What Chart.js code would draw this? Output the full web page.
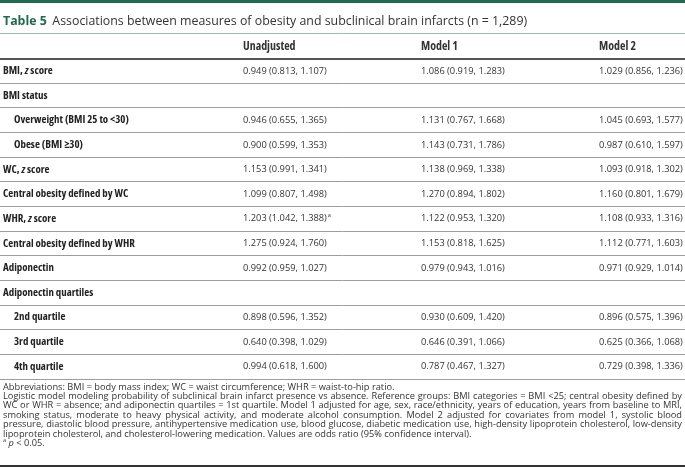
<!DOCTYPE html>
<html>
<head>
<meta charset="utf-8">
<script src="https://cdn.jsdelivr.net/npm/chart.js@4.4.1/dist/chart.umd.min.js"></script>
<style>
  html, body { margin: 0; padding: 0; background: #fff; }
  #wrap { width: 685px; height: 467px; position: relative; }
</style>
</head>
<body>
<div id="wrap"><canvas id="tbl"></canvas></div>
<script>
const tableNumber = 'Table 5';
const tableTitle = 'Associations between measures of obesity and subclinical brain infarcts (n = 1,289)';
const columns = ['Unadjusted', 'Model 1', 'Model 2'];
const rowLabels = [
  'BMI, z score',
  'BMI status',
  'Overweight (BMI 25 to <30)',
  'Obese (BMI \u226530)',
  'WC, z score',
  'Central obesity defined by WC',
  'WHR, z score',
  'Central obesity defined by WHR',
  'Adiponectin',
  'Adiponectin quartiles',
  '2nd quartile',
  '3rd quartile',
  '4th quartile'
];
// rows drawn indented under a group heading
const subRows = ['Overweight (BMI 25 to <30)', 'Obese (BMI \u226530)', '2nd quartile', '3rd quartile', '4th quartile'];
// odds ratio (95% CI); ^a marks the footnote
const unadjusted = ['0.949 (0.813, 1.107)', null, '0.946 (0.655, 1.365)', '0.900 (0.599, 1.353)', '1.153 (0.991, 1.341)', '1.099 (0.807, 1.498)', '1.203 (1.042, 1.388)^a', '1.275 (0.924, 1.760)', '0.992 (0.959, 1.027)', null, '0.898 (0.596, 1.352)', '0.640 (0.398, 1.029)', '0.994 (0.618, 1.600)'];
const model1 = ['1.086 (0.919, 1.283)', null, '1.131 (0.767, 1.668)', '1.143 (0.731, 1.786)', '1.138 (0.969, 1.338)', '1.270 (0.894, 1.802)', '1.122 (0.953, 1.320)', '1.153 (0.818, 1.625)', '0.979 (0.943, 1.016)', null, '0.930 (0.609, 1.420)', '0.646 (0.391, 1.066)', '0.787 (0.467, 1.327)'];
const model2 = ['1.029 (0.856, 1.236)', null, '1.045 (0.693, 1.577)', '0.987 (0.610, 1.597)', '1.093 (0.918, 1.302)', '1.160 (0.801, 1.679)', '1.108 (0.933, 1.316)', '1.112 (0.771, 1.603)', '0.971 (0.929, 1.014)', null, '0.896 (0.575, 1.396)', '0.625 (0.366, 1.068)', '0.729 (0.398, 1.336)'];
const footnoteLines = [
  'Abbreviations: BMI = body mass index; WC = waist circumference; WHR = waist-to-hip ratio.',
  'Logistic model modeling probability of subclinical brain infarct presence vs absence. Reference groups: BMI categories = BMI <25; central obesity defined by',
  'WC or WHR = absence; and adiponectin quartiles = 1st quartile. Model 1 adjusted for age, sex, race/ethnicity, years of education, years from baseline to MRI,',
  'smoking status, moderate to heavy physical activity, and moderate alcohol consumption. Model 2 adjusted for covariates from model 1, systolic blood',
  'pressure, diastolic blood pressure, antihypertensive medication use, blood glucose, diabetic medication use, high-density lipoprotein cholesterol, low-density',
  'lipoprotein cholesterol, and cholesterol-lowering medication. Values are odds ratio (95% confidence interval).'
];
const justifiedLines = [1, 2, 3, 4];
const sigNote = 'p < 0.05.';

const FONT = '"Open Sans", "DejaVu Sans", sans-serif';
const GREEN = '#1f6b4d';

const valueSeries = [unadjusted, model1, model2];

function setFont(ctx, weight, size, stretch, italic) {
  ctx.font = `${italic ? 'italic ' : ''}${weight} ${size}px ${FONT}`;
  if ('fontStretch' in ctx) ctx.fontStretch = stretch || 'normal';
}

// size (px) that makes text come out at the given width
function fitSize(ctx, text, weight, width, stretch) {
  setFont(ctx, weight, 100, stretch);
  return 100 * width / ctx.measureText(text).width;
}

// draws [{t, italic}] pieces one after another, returns end x
function drawPieces(ctx, pieces, x, y, weight, size, stretch) {
  pieces.forEach(p => {
    setFont(ctx, weight, size, stretch, p.italic);
    ctx.fillText(p.t, x, y);
    x += ctx.measureText(p.t).width;
  });
  return x;
}

const tablePlugin = {
  id: 'tableText',
  beforeDraw(chart) {
    const { ctx, width, height } = chart;
    ctx.save();
    ctx.fillStyle = '#fff';
    ctx.fillRect(0, 0, width, height);
    ctx.restore();
  },
  afterDraw(chart) {
    const { ctx, chartArea, scales: { x, y }, width, height } = chart;
    ctx.save();

    // green band on top
    ctx.fillStyle = GREEN;
    ctx.fillRect(0, 0, width, 3);

    // title
    const tSize = fitSize(ctx, tableTitle, 400, 475);
    ctx.textBaseline = 'middle';
    ctx.textAlign = 'left';
    ctx.fillStyle = GREEN;
    setFont(ctx, 700, tSize);
    ctx.fillText(tableNumber, 3, 21);
    const numW = ctx.measureText(tableNumber).width;
    ctx.fillStyle = '#333';
    setFont(ctx, 400, tSize);
    ctx.fillText(tableTitle, 3 + numW + tSize * 0.45, 21);

    // column headers on the first category row
    const hSize = fitSize(ctx, 'Model 2', 700, 37, 'condensed');
    const headY = y.getPixelForValue(0);
    ctx.fillStyle = '#333';
    setFont(ctx, 700, hSize, 'condensed');
    columns.forEach((c, i) => ctx.fillText(c, x.getPixelForValue(i + 1), headY));

    // row labels
    const lSize = fitSize(ctx, 'Central obesity defined by WHR', 700, 132, 'semi-condensed');
    ctx.fillStyle = '#222';
    rowLabels.forEach((lab, r) => {
      const py = y.getPixelForValue(r + 1);
      const px = chartArea.left + 3 + (subRows.includes(lab) ? 11 : 0);
      const pieces = lab.split(/(\bz\b)/).filter(s => s).map(s => ({ t: s, italic: s === 'z' }));
      drawPieces(ctx, pieces, px, py, 700, lSize, 'semi-condensed');
    });

    // cell values, positioned by the dataset points
    const vSize = fitSize(ctx, '0.949 (0.813, 1.107)', 400, 84);
    ctx.fillStyle = '#333';
    chart.data.datasets.forEach((ds, d) => {
      const meta = chart.getDatasetMeta(d);
      meta.data.forEach((el, j) => {
        const [txt, note] = ds.data[j].text.split('^');
        setFont(ctx, 400, vSize);
        ctx.fillText(txt, el.x, el.y);
        if (note) {
          const w = ctx.measureText(txt).width;
          setFont(ctx, 400, vSize * 0.6);
          ctx.fillText(note, el.x + w + 1, el.y - vSize * 0.35);
        }
      });
    });

    // footnotes
    const fSize = fitSize(ctx, footnoteLines[0], 400, 392);
    const fLead = 9.4;
    const fTop = chartArea.bottom + 8;
    const left = 3, right = width - 3;
    ctx.fillStyle = '#333';
    setFont(ctx, 400, fSize);
    footnoteLines.forEach((line, i) => {
      const py = fTop + i * fLead;
      if (justifiedLines.includes(i)) {
        const words = line.split(' ');
        const total = words.reduce((s, w) => s + ctx.measureText(w).width, 0);
        const gap = (right - left - total) / (words.length - 1);
        let px = left;
        words.forEach(w => {
          ctx.fillText(w, px, py);
          px += ctx.measureText(w).width + gap;
        });
      } else {
        ctx.fillText(line, left, py);
      }
    });
    const sy = fTop + footnoteLines.length * fLead;
    setFont(ctx, 400, fSize * 0.6);
    ctx.fillText('a', left, sy - fSize * 0.3);
    const aw = ctx.measureText('a ').width;
    drawPieces(ctx, [{ t: 'p', italic: true }, { t: sigNote.slice(1), italic: false }], left + aw + 1, sy, 400, fSize);

    // closing rule
    ctx.fillStyle = '#333';
    ctx.fillRect(0, height - 2, width, 2);
    ctx.restore();
  }
};

const ctx = document.getElementById('tbl').getContext('2d');
const chart = new Chart(ctx, {
  type: 'scatter',
  data: {
    datasets: columns.map((name, i) => ({
      label: name,
      data: valueSeries[i]
        .map((v, r) => (v ? { x: i + 1, y: rowLabels[r], text: v } : null))
        .filter(Boolean),
      pointRadius: 0,
      pointHoverRadius: 0
    }))
  },
  options: {
    responsive: true,
    maintainAspectRatio: false,
    animation: false,
    events: [],
    layout: { padding: { top: 34, bottom: 88, left: 0, right: 0 } },
    plugins: {
      legend: { display: false },
      tooltip: { enabled: false },
      title: { display: false }
    },
    scales: {
      x: { type: 'linear', min: -0.365, max: 3.483, display: false },
      y: {
        type: 'category',
        labels: [''].concat(rowLabels),
        offset: true,
        border: { display: false },
        ticks: { display: false },
        grid: {
          offset: true,
          drawTicks: false,
          color: (c) => {
            if (c.index === 0) return '#9fb9b0';
            if (c.index === 1 || c.index === rowLabels.length + 1) return '#555';
            return '#9d9d9d';
          },
          lineWidth: (c) => (c.index === 1 || c.index === rowLabels.length + 1 ? 2 : 1)
        }
      }
    }
  },
  plugins: [tablePlugin]
});
</script>
</body>
</html>
